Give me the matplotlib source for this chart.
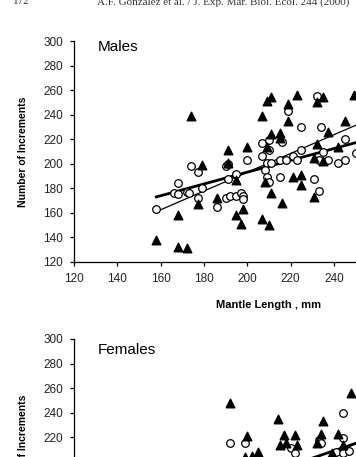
import matplotlib.pyplot as plt

# Males
male_tri_x = [158, 168, 168, 172, 177, 174, 191, 200, 207, 209, 211, 219, 223, 219, 211,
              215, 215, 209, 232, 235, 237, 245, 249, 232, 242, 179, 191, 195, 186, 198,
              195, 197, 207, 210, 208, 211, 216, 221, 225, 225, 231, 231, 235]
male_tri_y = [138, 158, 132, 131, 167, 239, 211, 214, 239, 251, 254, 249, 256, 235, 224,
              225, 221, 214, 250, 254, 226, 235, 256, 216, 214, 199, 201, 187, 172, 163,
              158, 151, 155, 150, 185, 176, 168, 189, 191, 183, 173, 205, 202]
male_circ_x = [158, 168, 166, 168, 172, 173, 174, 177, 177, 179, 186, 190, 191, 195, 200,
               191, 190, 192, 195, 197, 198, 198, 207, 210, 216, 210, 225, 235, 207, 209,
               211, 208, 209, 210, 215, 215, 218, 221, 223, 231, 233, 233, 237, 242, 245,
               245, 250, 232, 219, 225, 234]
male_circ_y = [163, 184, 176, 175, 177, 176, 198, 193, 172, 180, 165, 198, 200, 192, 203,
               188, 172, 174, 174, 176, 174, 171, 217, 219, 218, 211, 211, 210, 206, 201,
               201, 195, 189, 185, 189, 203, 203, 206, 203, 188, 178, 203, 203, 201, 203,
               220, 209, 255, 243, 230, 230]
male_fit_x = [158, 260]
male_thick_y = [173, 222]
male_thin_y = [161, 239]

# Females
fem_tri_x = [192, 200, 214, 217, 222, 215, 218, 223, 235, 234, 232, 242, 248, 244, 199,
             202, 205, 239]
fem_tri_y = [248, 221, 235, 222, 222, 214, 215, 214, 233, 223, 215, 223, 256, 214, 204,
             205, 208, 207]
fem_circ_x = [192, 199, 220, 222, 233, 234, 244, 244, 241, 244, 247]
fem_circ_y = [215, 215, 211, 207, 218, 215, 240, 219, 208, 207, 209]
fem_fit_x = [150, 260]
fem_thick_y = [155, 221]
fem_thin_y = [125, 224]

# only the ticks that fall inside the cropped page
male_xticks = [120, 140, 160, 180, 200, 220, 240]
male_yticks = [120, 140, 160, 180, 200, 220, 240, 260, 280, 300]
fem_yticks = [220, 240, 260, 280, 300]

W, H = 356, 457
fig = plt.figure(figsize=(W / 100, H / 100), dpi=100)
plt.rcParams['font.family'] = 'Liberation Sans'


def panel(top_px, name, name_y, tx, ty, cx, cy, fx, thick, thin, xticks, yticks, xlabel):
    left, width, height = 74, 390, 221
    ax = fig.add_axes([left / W, 1 - (top_px + height) / H, width / W, height / H])
    ax.scatter(cx, cy, s=30, facecolors='white', edgecolors='black', linewidths=0.9, zorder=3)
    ax.scatter(tx, ty, s=38, marker='^', color='black', zorder=4)
    ax.plot(fx, thick, color='black', lw=2.0, zorder=2)
    ax.plot(fx, thin, color='black', lw=0.9, zorder=2)
    ax.set_xlim(120, 300)
    ax.set_ylim(120, 300)
    ax.set_xticks(xticks)
    ax.set_yticks(yticks)
    for s in ['top', 'right']:
        ax.spines[s].set_visible(False)
    for s in ['left', 'bottom']:
        ax.spines[s].set_linewidth(0.9)
    ax.tick_params(direction='out', length=3, width=0.9, labelsize=8.5,
                   labelcolor='#222222', pad=5)
    ax.set_ylabel('Number of Increments', fontsize=7.5, fontweight='bold', labelpad=11)
    if xlabel:
        ax.set_xlabel('Mantle Length , mm', fontsize=8, fontweight='bold', labelpad=11)
    ax.text(0.06, name_y, name, transform=ax.transAxes, fontsize=11, va='center')
    return ax


panel(41, 'Males', 0.975, male_tri_x, male_tri_y, male_circ_x, male_circ_y,
      male_fit_x, male_thick_y, male_thin_y, male_xticks, male_yticks, True)
panel(339, 'Females', 0.95, fem_tri_x, fem_tri_y, fem_circ_x, fem_circ_y,
      fem_fit_x, fem_thick_y, fem_thin_y, [], fem_yticks, False)

fig.text(13 / W, 1 - 4.5 / H, '172', family='Liberation Serif', fontsize=8.0,
         va='baseline', color='#333333')
fig.text(97 / W, 1 - 4.5 / H, 'A.F. González et al. / J. Exp. Mar. Biol. Ecol. 244 (2000)',
         family='Liberation Serif', fontsize=8.0, va='baseline', color='#333333')

plt.savefig('out.png', dpi=100)
plt.close()
